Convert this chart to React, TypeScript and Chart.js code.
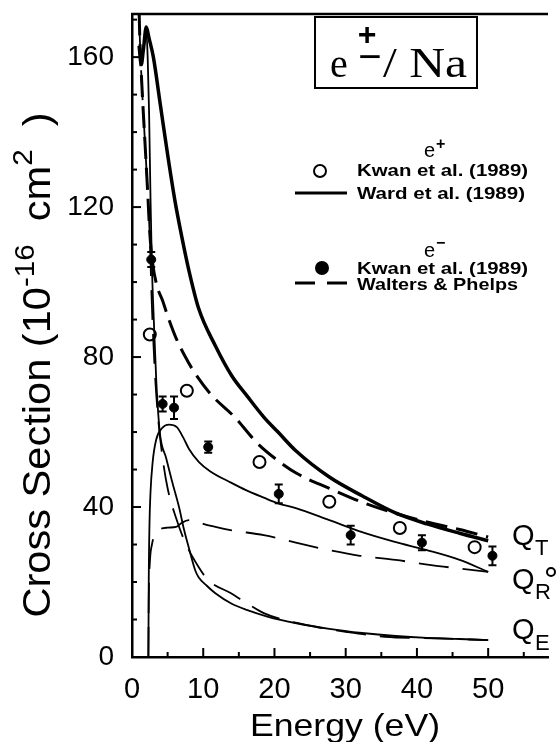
import React, { useEffect, useRef } from "react";
import { Chart, registerables } from "chart.js";
Chart.register(...registerables);

const W = 556;
const H = 742;

// Q_T e+ (Ward et al. 1989, solid thick)
const totalPosE = [1.0, 1.3, 1.6, 2.0, 2.4, 3.0, 4.0, 5.0, 6.0, 7.0, 8.0, 9.35, 11.7, 14.0, 16.2, 18.5, 20.5, 23.0, 27.7, 32.3, 36.9, 41.4, 46.0, 50.0];
const totalPosQ = [163, 158, 162, 168, 165, 160, 147, 134, 122, 112, 103, 93, 83, 75, 69.5, 64, 60, 55, 48, 43, 38.5, 35.5, 33, 31];
// Q_T e- (Walters & Phelps, dashed thick)
const totalEleE = [0.9, 1.1, 1.4, 1.8, 2.2, 2.5, 2.9, 3.5, 4.3, 5.0, 6.2, 7.5, 8.9, 11.1, 14.4, 17.6, 20.4, 23.1, 27.7, 32.0, 37.0, 41.4, 46.0, 50.0];
const totalEleQ = [180, 165, 152, 138, 124, 113, 105, 99, 95, 91, 85, 80, 75.5, 70, 64, 57, 52.5, 49, 45, 41.5, 38.3, 36, 34, 32];
// Q_R e+ (solid thin)
const resPosE = [2.3, 2.35, 2.45, 2.6, 2.9, 3.4, 4.2, 5.2, 6.3, 7.2, 8.0, 9.4, 11.0, 13.9, 16.0, 18.5, 20.5, 23.0, 27.7, 32.3, 36.9, 41.4, 46.0, 50.0];
const resPosQ = [0, 20, 35, 44, 52, 58, 61, 62, 61.3, 58.5, 55.5, 52, 49.5, 46.5, 44.5, 42.5, 41, 39.7, 36.5, 33.3, 30.7, 28.5, 25.9, 22.7];
// Q_R e- (dashed thin)
const resEleE = [2.3, 2.35, 2.5, 2.8, 3.3, 3.85, 5.0, 6.2, 7.0, 8.0, 9.0, 10.0, 11.7, 14.0, 18.5, 23.0, 27.7, 32.0, 37.0, 42.0, 46.0, 50.0];
const resEleQ = [0, 15, 25, 30, 33, 34, 34.5, 34.7, 35.8, 36.5, 36.2, 35.5, 34.7, 33.8, 32.5, 30.5, 28.5, 27, 25.9, 24.5, 23.6, 22.7];
// Q_E e+ (solid thin)
const elPosE = [1.0, 1.3, 1.6, 2.0, 2.2, 2.4, 2.6, 2.8, 3.1, 3.4, 3.9, 4.8, 5.6, 6.6, 7.3, 8.0, 8.9, 9.35, 10.5, 11.7, 14.0, 16.2, 19.0, 23.1, 27.7, 32.3, 37.0, 41.4, 46.0, 50.0];
const elPosQ = [163, 158, 162, 167, 160, 145, 122, 104, 88, 74, 60, 53, 47, 40, 34, 29, 23, 21.3, 19, 17, 14.2, 12.5, 10.8, 9, 7.5, 6.4, 5.6, 5.1, 4.8, 4.5];
// Q_E e- (dashed thin)
const elEleE = [0.9, 1.1, 1.4, 1.8, 2.2, 2.5, 2.75, 3.0, 3.3, 3.7, 4.3, 5.0, 6.2, 7.5, 9.35, 10.7, 13.9, 15.8, 18.5, 21.3, 25.9, 30.0, 35.5, 42.4, 50.0];
const elEleQ = [180, 165, 152, 138, 124, 112, 96, 84, 73, 63, 53, 45, 37, 30.4, 24, 20.5, 17, 14.7, 11.7, 9.9, 8, 6.7, 5.4, 5, 4.5];
// Kwan et al. (1989) e+ (open circles)
const kwanPosE = [2.5, 7.7, 17.9, 27.7, 37.6, 48.1];
const kwanPosQ = [86, 71, 52, 41.4, 34.4, 29.3];
// Kwan et al. (1989) e- (filled, with error bars)
const kwanEleE = [2.7, 4.3, 5.9, 10.7, 20.6, 30.7, 40.7, 50.6];
const kwanEleQ = [106, 67.5, 66.5, 56, 43.5, 32.5, 30.5, 27];
const kwanEleErr = [2, 2, 3, 1.5, 2.5, 2.5, 2, 2.5];

const xTicks = [0, 10, 20, 30, 40, 50];
const yTicks = [0, 40, 80, 120, 160];

const pts = (xs: number[], ys: number[]) => xs.map((x, i) => ({ x, y: ys[i] }));

const SANS = "'Liberation Sans', Arial, sans-serif";
const SERIF = "'Liberation Serif', 'Times New Roman', serif";

function fitText(ctx: any, text: string, x: number, y: number, font: string, width: number) {
  ctx.save();
  ctx.font = font;
  const w = ctx.measureText(text).width;
  ctx.translate(x, y);
  ctx.scale(width / w, 1);
  ctx.textAlign = "left";
  ctx.fillText(text, 0, 0);
  ctx.restore();
}

const decor = {
  id: "decor",
  afterDatasetsDraw(chart: any) {
    const { ctx, chartArea, scales } = chart;
    const xs = scales.x;
    const ys = scales.y;
    ctx.save();
    ctx.strokeStyle = "#000";
    ctx.fillStyle = "#000";

    // error bars for e- data
    ctx.lineWidth = 2;
    kwanEleE.forEach((e, i) => {
      const px = xs.getPixelForValue(e);
      const y1 = ys.getPixelForValue(kwanEleQ[i] + kwanEleErr[i]);
      const y2 = ys.getPixelForValue(kwanEleQ[i] - kwanEleErr[i]);
      ctx.beginPath();
      ctx.moveTo(px, y1);
      ctx.lineTo(px, y2);
      ctx.moveTo(px - 4, y1);
      ctx.lineTo(px + 4, y1);
      ctx.moveTo(px - 4, y2);
      ctx.lineTo(px + 4, y2);
      ctx.stroke();
    });

    // top frame line
    ctx.lineWidth = 2.5;
    ctx.beginPath();
    ctx.moveTo(chartArea.left - 1, chartArea.top);
    ctx.lineTo(chartArea.right, chartArea.top);
    ctx.stroke();

    // inward ticks
    ctx.lineWidth = 2;
    for (let v = 5; v <= 55; v += 5) {
      const px = xs.getPixelForValue(v);
      const len = v % 10 === 0 ? 9 : 5;
      ctx.beginPath();
      ctx.moveTo(px, chartArea.bottom);
      ctx.lineTo(px, chartArea.bottom - len);
      ctx.stroke();
    }
    for (let v = 10; v <= 170; v += 10) {
      const py = ys.getPixelForValue(v);
      const len = v % 40 === 0 ? 9 : 5;
      ctx.beginPath();
      ctx.moveTo(chartArea.left, py);
      ctx.lineTo(chartArea.left + len, py);
      ctx.stroke();
    }

    // title box
    ctx.lineWidth = 2;
    ctx.strokeRect(315, 17, 162, 71);
    ctx.textBaseline = "alphabetic";
    ctx.textAlign = "left";
    ctx.font = `40px ${SERIF}`;
    ctx.fillText("e", 330, 77);
    ctx.font = `bold 32px ${SANS}`;
    ctx.textAlign = "center";
    ctx.fillText("+", 367, 45);
    ctx.font = `40px ${SANS}`;
    ctx.fillText("\u2212", 370, 70);
    ctx.textAlign = "left";
    fitText(ctx, "/ Na", 383, 77, `42px ${SERIF}`, 84);

    // legend
    ctx.font = `20px ${SANS}`;
    ctx.fillText("e", 424, 157);
    ctx.font = `bold 16px ${SANS}`;
    ctx.fillText("+", 436, 149);
    ctx.font = `20px ${SANS}`;
    ctx.fillText("e", 424, 257);
    ctx.font = `bold 16px ${SANS}`;
    ctx.fillText("\u2212", 436, 248);

    const lf = `bold 17px ${SANS}`;
    fitText(ctx, "Kwan et al. (1989)", 357, 176, lf, 171);
    fitText(ctx, "Ward et al. (1989)", 357, 199, lf, 168);
    fitText(ctx, "Kwan et al. (1989)", 357, 274, lf, 171);
    fitText(ctx, "Walters & Phelps", 357, 290, lf, 161);

    ctx.lineWidth = 2;
    ctx.beginPath();
    ctx.arc(320, 171, 6, 0, Math.PI * 2);
    ctx.stroke();
    ctx.beginPath();
    ctx.arc(322, 268, 7, 0, Math.PI * 2);
    ctx.fill();
    ctx.lineWidth = 3;
    ctx.beginPath();
    ctx.moveTo(295, 193);
    ctx.lineTo(347, 193);
    ctx.moveTo(295, 283);
    ctx.lineTo(315, 283);
    ctx.moveTo(327, 283);
    ctx.lineTo(347, 283);
    ctx.stroke();

    // curve labels
    const qLabel = (x: number, y: number, sub: string, subY: number) => {
      ctx.font = `29px ${SANS}`;
      ctx.fillText("Q", x, y);
      ctx.font = `22px ${SANS}`;
      ctx.fillText(sub, x + 23, subY);
    };
    qLabel(512, 545, "T", 555);
    qLabel(512, 589, "R", 599);
    qLabel(512, 639, "E", 650);
    ctx.lineWidth = 2;
    ctx.beginPath();
    ctx.arc(551, 572, 4, 0, Math.PI * 2);
    ctx.stroke();

    // x axis title
    fitText(ctx, "Energy (eV)", 250, 736, `32px ${SANS}`, 190);

    // y axis title
    ctx.save();
    ctx.translate(50, 365);
    ctx.rotate(-Math.PI / 2);
    ctx.textAlign = "left";
    const main = `38px ${SANS}`;
    const sup = `27px ${SANS}`;
    const parts = [
      { t: "Cross Section (10", f: main, dy: 0 },
      { t: "-16", f: sup, dy: -16 },
      { t: "  cm", f: main, dy: 0 },
      { t: "2", f: sup, dy: -18 },
      { t: "  )", f: main, dy: 0 },
    ];
    let total = 0;
    parts.forEach((p) => {
      ctx.font = p.f;
      total += ctx.measureText(p.t).width;
    });
    const target = 505;
    ctx.scale(target / total, 1);
    let cx = -total / 2;
    parts.forEach((p) => {
      ctx.font = p.f;
      ctx.fillText(p.t, cx, p.dy);
      cx += ctx.measureText(p.t).width;
    });
    ctx.restore();

    ctx.restore();
  },
};

export default function App() {
  const ref = useRef<HTMLCanvasElement>(null);
  useEffect(() => {
    if (!ref.current) return;
    const thin = 1.8;
    const chart = new Chart(ref.current, {
      type: "line",
      data: {
        datasets: [
          { label: "QT e+", data: pts(totalPosE, totalPosQ), borderColor: "#000", borderWidth: 3.5, pointRadius: 0, cubicInterpolationMode: "monotone", fill: false },
          { label: "QT e-", data: pts(totalEleE, totalEleQ), borderColor: "#000", borderWidth: 3, borderDash: [22, 9], pointRadius: 0, cubicInterpolationMode: "monotone", fill: false },
          { label: "QR e+", data: pts(resPosE, resPosQ), borderColor: "#000", borderWidth: thin, pointRadius: 0, cubicInterpolationMode: "monotone", fill: false },
          { label: "QR e-", data: pts(resEleE, resEleQ), borderColor: "#000", borderWidth: thin, borderDash: [30, 14], pointRadius: 0, cubicInterpolationMode: "monotone", fill: false },
          { label: "QE e+", data: pts(elPosE, elPosQ), borderColor: "#000", borderWidth: thin, pointRadius: 0, cubicInterpolationMode: "monotone", fill: false },
          { label: "QE e-", data: pts(elEleE, elEleQ), borderColor: "#000", borderWidth: thin, borderDash: [30, 14], pointRadius: 0, cubicInterpolationMode: "monotone", fill: false },
          { label: "Kwan e+", data: pts(kwanPosE, kwanPosQ), showLine: false, pointStyle: "circle", pointRadius: 6, pointBorderWidth: 2, pointBorderColor: "#000", pointBackgroundColor: "#fff" },
          { label: "Kwan e-", data: pts(kwanEleE, kwanEleQ), showLine: false, pointStyle: "circle", pointRadius: 4.5, pointBorderWidth: 1, pointBorderColor: "#000", pointBackgroundColor: "#000" },
        ] as any,
      },
      options: {
        animation: false,
        responsive: false,
        devicePixelRatio: 1,
        layout: { padding: { top: 14, right: 0, left: 0, bottom: 0 } },
        plugins: { legend: { display: false }, tooltip: { enabled: false }, title: { display: false } },
        scales: {
          x: {
            type: "linear",
            min: 0,
            max: 58.4,
            afterBuildTicks: (s: any) => {
              s.ticks = xTicks.map((v) => ({ value: v }));
            },
            afterFit: (s: any) => {
              s.height = 85;
              s.paddingLeft = 0;
              s.paddingRight = 0;
            },
            ticks: { color: "#000", font: { family: SANS, size: 29 }, padding: 8, maxRotation: 0, autoSkip: false },
            grid: { display: false },
            border: { display: true, color: "#000", width: 2.5 },
          },
          y: {
            type: "linear",
            min: 0,
            max: 171.5,
            afterBuildTicks: (s: any) => {
              s.ticks = yTicks.map((v) => ({ value: v }));
            },
            afterFit: (s: any) => {
              s.width = 132;
              s.paddingTop = 0;
              s.paddingBottom = 0;
            },
            ticks: { color: "#000", font: { family: SANS, size: 28 }, padding: 10, autoSkip: false },
            grid: { display: false },
            border: { display: true, color: "#000", width: 2.5 },
          },
        },
      } as any,
      plugins: [decor],
    });
    return () => chart.destroy();
  }, []);
  return (
    <div style={{ position: "fixed", left: 0, top: 0, width: W, height: H, background: "#fff" }}>
      <canvas ref={ref} width={W} height={H} style={{ width: W, height: H, display: "block" }} />
    </div>
  );
}
